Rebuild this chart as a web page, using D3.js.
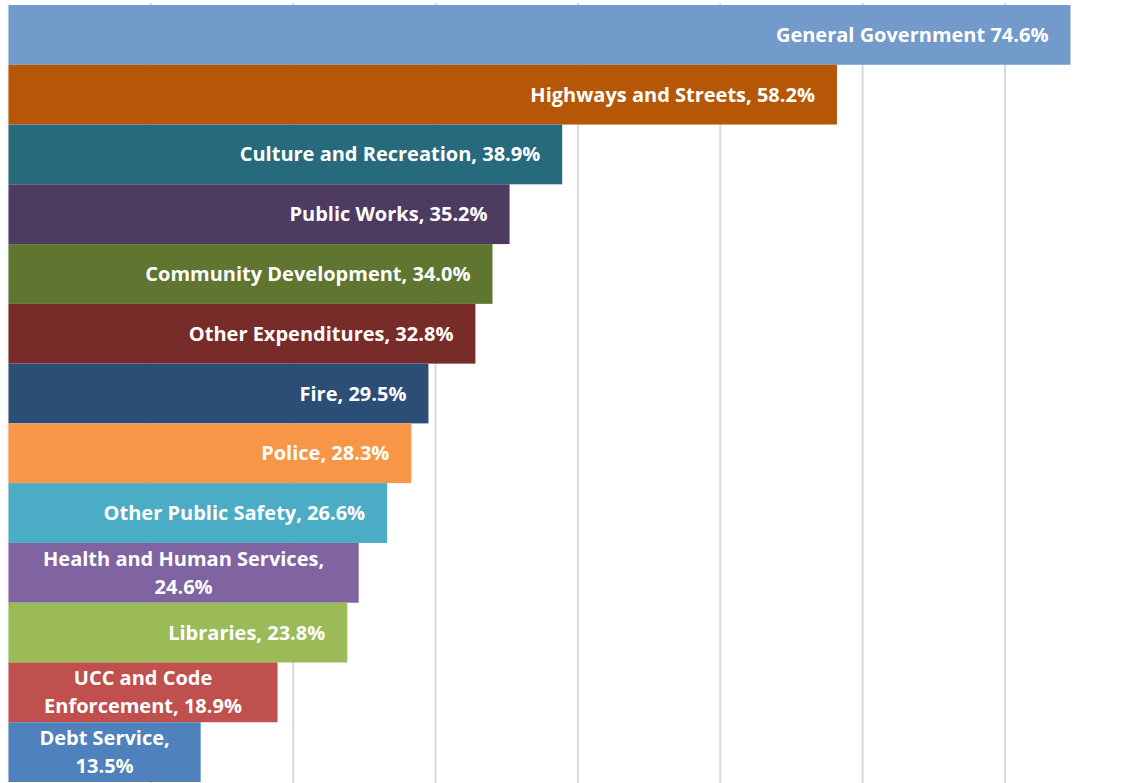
<!DOCTYPE html>
<html>
<head>
<meta charset="utf-8">
<script src="https://cdn.jsdelivr.net/npm/d3@7/dist/d3.min.js"></script>
<style>
  html, body { margin: 0; padding: 0; background: #ffffff; }
  svg { display: block; }
  .bar-label { font-family: "Open Sans", "Noto Sans", sans-serif; font-weight: 700; font-size: 20px; fill: #ffffff; }
</style>
</head>
<body>
<svg id="chart" width="1138" height="783"></svg>
<script>
// Share of spending by function, largest first
const categories = [
  "General Government",
  "Highways and Streets",
  "Culture and Recreation",
  "Public Works",
  "Community Development",
  "Other Expenditures",
  "Fire",
  "Police",
  "Other Public Safety",
  "Health and Human Services",
  "Libraries",
  "UCC and Code Enforcement",
  "Debt Service"
];
const values = [74.6, 58.2, 38.9, 35.2, 34.0, 32.8, 29.5, 28.3, 26.6, 24.6, 23.8, 18.9, 13.5];
// Text placed between the name and the value in each label
const labelSeparators = [" ", ", ", ", ", ", ", ", ", ", ", ", ", ", ", ", ", ", ", ", ", ", ", ", "];
const colors = [
  "#729ACA", "#B65708", "#276A7C", "#4D3B62", "#5F7530", "#772C2A",
  "#2C4D75", "#F79646", "#4BACC6", "#8064A2", "#9BBB59", "#C0504D", "#4F81BD"
];
const gridTicks = [0, 10, 20, 30, 40, 50, 60, 70];

const svg = d3.select("#chart");
const W = 1138, H = 783;

const x = d3.scaleLinear().domain([0, 80]).range([8.5, 8.5 + 80 * 14.235]);
const y = d3.scaleBand().domain(categories).range([5, 782]).padding(0);

// Vertical gridlines
svg.append("g")
  .selectAll("line")
  .data(gridTicks)
  .join("line")
  .attr("x1", d => x(d)).attr("x2", d => x(d))
  .attr("y1", 3).attr("y2", H)
  .attr("stroke", d => d === 0 ? "#ececec" : "#d9d9d9")
  .attr("stroke-width", 2);

// Bars
svg.append("g")
  .selectAll("rect")
  .data(categories)
  .join("rect")
  .attr("x", x(0))
  .attr("y", d => y(d))
  .attr("width", (d, i) => x(values[i]) - x(0))
  .attr("height", y.bandwidth())
  .attr("fill", (d, i) => colors[i]);

// Labels inside each bar; wrapped and centred when they do not fit
const pad = 22;
const lineH = 28;
const labels = svg.append("g");
categories.forEach((name, i) => {
  const full = name + labelSeparators[i] + values[i].toFixed(1) + "%";
  const x0 = x(0), x1 = x(values[i]);
  const barW = x1 - x0;
  const cy = y(name) + y.bandwidth() / 2;
  const t = labels.append("text").attr("class", "bar-label");
  t.text(full);
  const maxW = barW - 2 * pad;
  if (t.node().getComputedTextLength() <= maxW) {
    t.attr("x", x1 - pad).attr("y", cy).attr("dy", "0.35em").attr("text-anchor", "end");
    return;
  }
  // Greedy word wrap
  t.text(null);
  const words = full.split(" ");
  const lines = [];
  let cur = [];
  const probe = labels.append("text").attr("class", "bar-label");
  words.forEach(w => {
    const test = cur.concat([w]).join(" ");
    probe.text(test);
    if (probe.node().getComputedTextLength() > maxW && cur.length) {
      lines.push(cur.join(" "));
      cur = [w];
    } else {
      cur.push(w);
    }
  });
  if (cur.length) lines.push(cur.join(" "));
  probe.remove();
  const cx = (x0 + x1) / 2;
  t.attr("text-anchor", "middle");
  lines.forEach((ln, k) => {
    t.append("tspan")
      .attr("x", cx)
      .attr("y", cy + (k - (lines.length - 1) / 2) * lineH)
      .attr("dy", "0.35em")
      .text(ln);
  });
});
</script>
</body>
</html>
